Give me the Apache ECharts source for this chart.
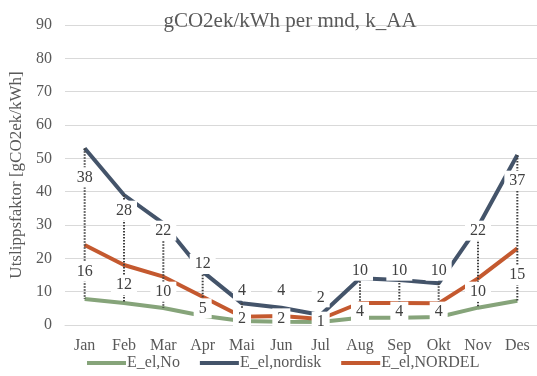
<!DOCTYPE html>
<html><head><meta charset="utf-8">
<script src="https://cdn.jsdelivr.net/npm/echarts@6/dist/echarts.min.js"></script>
<style>html,body{margin:0;padding:0;background:#fff}#c{width:537px;height:376px}</style>
</head><body><div id="c"></div>
<script>
const months = ['Jan','Feb','Mar','Apr','Mai','Jun','Jul','Aug','Sep','Okt','Nov','Des'];
const elNo = [7.8, 6.6, 5.1, 2.8, 1.2, 1.0, 0.9, 2.2, 2.2, 2.4, 5.2, 7.3];
const elNordisk = [53, 39, 30.5, 16, 6.5, 5.2, 3, 14, 13.5, 12.5, 29.5, 51];
const elNordel = [24, 18, 14.5, 8.5, 2.5, 2.7, 1.8, 6.6, 6.6, 6.5, 14, 23];
const upperLabels = [38, 28, 22, 12, 4, 4, 2, 10, 10, 10, 22, 37];
const lowerLabels = [16, 12, 10, 5, 2, 2, 1, 4, 4, 4, 10, 15];
const seriesNames = ['E_el,No', 'E_el,nordisk', 'E_el,NORDEL'];
const titleText = 'gCO2ek/kWh per mnd, k_AA';
const yAxisName = 'Utslippsfaktor [gCO2ek/kWh]';

const FONT = 'Liberation Serif';
const TXT = '#595959';
const colors = ['#86A47A', '#44546A', '#C4592F'];

const hiLo = months.map((m, i) => {
  const vals = [elNo[i], elNordisk[i], elNordel[i]];
  return [i, Math.max(...vals), Math.min(...vals)];
});

function labelSeries(values, dy) {
  return {
    type: 'custom', z: 10, silent: true,
    data: values.map((v, i) => [i, v]),
    renderItem: function (params, api) {
      const p = api.coord([api.value(0), api.value(1)]);
      return {
        type: 'text', x: p[0], y: p[1] + dy, z2: 100,
        style: {
          text: String(api.value(1)), fill: '#404040',
          font: '16px "' + FONT + '"', align: 'center', verticalAlign: 'middle',
          backgroundColor: '#fff', padding: [2, 5]
        }
      };
    }
  };
}

const chart = echarts.init(document.getElementById('c'), null, {renderer: 'canvas'});
chart.setOption({
  animation: false,
  backgroundColor: '#fff',
  color: colors,
  title: {
    text: titleText, left: 285, top: 6, textAlign: 'center',
    textStyle: {fontFamily: FONT, fontSize: 21, fontWeight: 'normal', color: TXT}
  },
  grid: {left: 65, right: -3, top: 25, bottom: 51},
  legend: {
    bottom: 0, left: 82, itemGap: 20, itemWidth: 39, itemHeight: 4, icon: 'rect',
    data: seriesNames,
    textStyle: {fontFamily: FONT, fontSize: 16, color: TXT, padding: [0, 0, 0, -4]}
  },
  xAxis: {
    type: 'category', data: months, boundaryGap: true,
    axisLine: {show: true, lineStyle: {color: '#D9D9D9', width: 1}},
    axisTick: {show: false},
    axisLabel: {fontFamily: FONT, fontSize: 16, color: TXT, margin: 13}
  },
  yAxis: {
    type: 'value', min: 0, max: 90, interval: 10,
    name: yAxisName, nameLocation: 'middle', nameGap: 40, nameRotate: 90,
    nameTextStyle: {fontFamily: FONT, fontSize: 17, color: TXT},
    axisLine: {show: false}, axisTick: {show: false},
    axisLabel: {fontFamily: FONT, fontSize: 16, color: TXT, margin: 13},
    splitLine: {lineStyle: {color: '#D9D9D9', width: 1}}
  },
  series: [
    {name: seriesNames[0], type: 'line', data: elNo, symbol: 'none', z: 3,
     lineStyle: {width: 4, color: colors[0]}, itemStyle: {color: colors[0]}},
    {name: seriesNames[1], type: 'line', data: elNordisk, symbol: 'none', z: 3,
     lineStyle: {width: 4, color: colors[1]}, itemStyle: {color: colors[1]}},
    {name: seriesNames[2], type: 'line', data: elNordel, symbol: 'none', z: 3,
     lineStyle: {width: 4, color: colors[2]}, itemStyle: {color: colors[2]}},
    {type: 'custom', data: hiLo, z: 4, silent: true,
     renderItem: function (params, api) {
       const p1 = api.coord([api.value(0), api.value(1)]);
       const p2 = api.coord([api.value(0), api.value(2)]);
       return {type: 'line', shape: {x1: p1[0], y1: p1[1], x2: p2[0], y2: p2[1]},
               style: {stroke: '#404040', lineWidth: 2, lineDash: [1.5, 1.5]}};
     }},
    labelSeries(upperLabels, -21),
    labelSeries(lowerLabels, 0)
  ]
});
</script></body></html>
